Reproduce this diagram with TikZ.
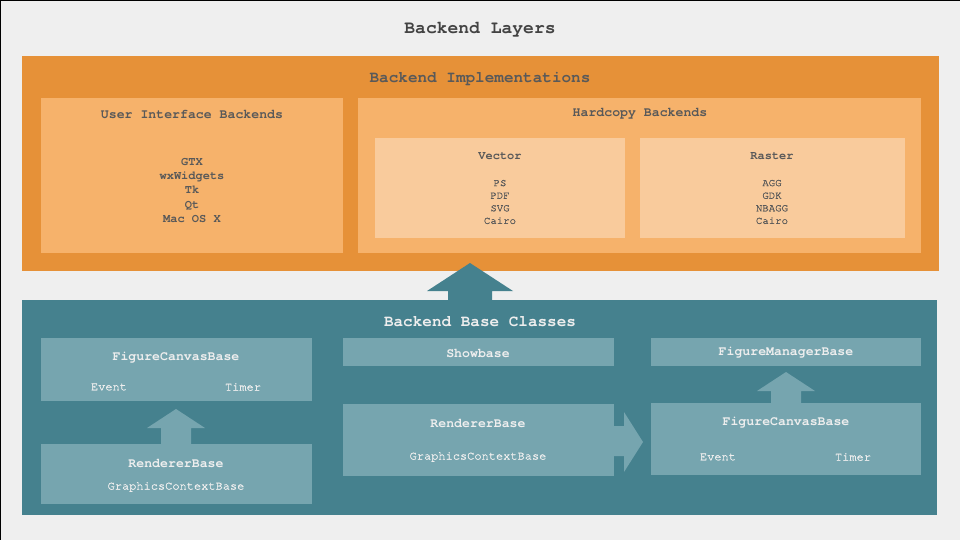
\documentclass[tikz,border=0pt]{standalone}
\usepackage{fontspec}
\setmonofont{TeX Gyre Cursor}
\newfontfamily\medtt[FakeBold=1.2]{TeX Gyre Cursor}
\usetikzlibrary{positioning}

\definecolor{pagebg}{HTML}{EFEFEF}
\definecolor{implout}{HTML}{E69138}
\definecolor{implin}{HTML}{F6B26B}
\definecolor{implleaf}{HTML}{F9CB9C}
\definecolor{baseout}{HTML}{45818E}
\definecolor{basein}{HTML}{76A5AF}
\definecolor{darktxt}{HTML}{595959}
\definecolor{titletxt}{HTML}{434343}
\definecolor{lighttxt}{HTML}{EEEEEE}

\tikzset{
  box/.style={inner sep=0pt, outer sep=0pt, anchor=north west},
  orangetxt/.style={text=darktxt, font=\ttfamily\bfseries\fontsize{13.2}{15}\selectfont},
  tealtxt/.style={text=lighttxt, font=\ttfamily\bfseries\fontsize{13.2}{15}\selectfont},
  smalltxt/.style={font=\medtt\fontsize{12}{14}\selectfont},
}

\begin{document}
\begin{tikzpicture}[x=1pt, y=-1pt]
  \useasboundingbox (0,0) rectangle (960,540);
  \fill[pagebg] (0,0) rectangle (960,540);
  \draw[black, line width=2pt] (0,540) -- (0,0) -- (960,0);

  \node[text=titletxt, font=\ttfamily\bfseries\fontsize{18}{20}\selectfont] (layers) at (480,30) {Backend Layers};

  % implementations
  \node[box, fill=implout, minimum width=917, minimum height=215] (impl) at (22,56) {};
  \node[orangetxt, font=\ttfamily\bfseries\fontsize{16}{18}\selectfont] (impltitle) at (480,79) {Backend Implementations};

  \node[box, fill=implin, minimum width=302, minimum height=155] (ui) at (41,98) {};
  \node[orangetxt] (uititle) at (192,114) {User Interface Backends};
  \node[text=darktxt, font=\ttfamily\bfseries\fontsize{12}{14.3}\selectfont, align=center] (uilist) at (192,190.5)
    {GTX\\wxWidgets\\Tk\\Qt\\Mac OS X};

  \node[box, fill=implin, minimum width=563, minimum height=155] (hard) at (358,98) {};
  \node[orangetxt] (hardtitle) at (640,114) {Hardcopy Backends};

  \node[box, fill=implleaf, minimum width=250, minimum height=100] (vector) at (375,138) {};
  \node[orangetxt, font=\ttfamily\bfseries\fontsize{12}{14}\selectfont] (vectortitle) at (500,156) {Vector};
  \node[text=darktxt, font=\medtt\fontsize{10.7}{12.6}\selectfont, align=center] (vectorlist) at (500,202)
    {PS\\PDF\\SVG\\Cairo};

  \node[box, fill=implleaf, minimum width=265, minimum height=100] (raster) at (640,138) {};
  \node[orangetxt, font=\ttfamily\bfseries\fontsize{12}{14}\selectfont] (rastertitle) at (772,156) {Raster};
  \node[text=darktxt, font=\medtt\fontsize{10.7}{12.6}\selectfont, align=center] (rasterlist) at (772,202)
    {AGG\\GDK\\NBAGG\\Cairo};

  % base classes
  \node[box, fill=baseout, minimum width=915, minimum height=215] (base) at (22,300) {};
  \fill[baseout] (448,300) -- (448,291) -- (427,291) -- (470,263) -- (513,291) -- (492,291) -- (492,300) -- cycle;
  \node[tealtxt, font=\ttfamily\bfseries\fontsize{16}{18}\selectfont] (basetitle) at (480,322) {Backend Base Classes};

  % left column
  \node[box, fill=basein, minimum width=271, minimum height=63] (canvasl) at (41,338) {};
  \node[tealtxt] (canvasltitle) at (176,358) {FigureCanvasBase};
  \node[tealtxt, smalltxt] (eventl) at (109,387) {Event};
  \node[tealtxt, smalltxt] (timerl) at (243,387) {Timer};

  \node[box, fill=basein, minimum width=271, minimum height=60] (rendl) at (41,444) {};
  \node[tealtxt] (rendltitle) at (176,463) {RendererBase};
  \node[tealtxt, smalltxt] (gcl) at (176,487) {GraphicsContextBase};
  \fill[basein] (161,444) -- (161,428) -- (147,428) -- (176,409) -- (205,428) -- (191,428) -- (191,444) -- cycle;

  % middle column
  \node[box, fill=basein, minimum width=271, minimum height=28] (show) at (343,338) {};
  \node[tealtxt] (showtitle) at (478,353) {Showbase};

  \node[box, fill=basein, minimum width=271, minimum height=72] (rendm) at (343,404) {};
  \node[tealtxt] (rendmtitle) at (478,423) {RendererBase};
  \node[tealtxt, smalltxt] (gcm) at (478,457) {GraphicsContextBase};
  \fill[basein] (614,426) -- (624,426) -- (624,412) -- (643,442) -- (624,472) -- (624,456) -- (614,456) -- cycle;

  % right column
  \node[box, fill=basein, minimum width=270, minimum height=28] (manager) at (651,338) {};
  \node[tealtxt] (managertitle) at (786,353) {FigureManagerBase};

  \node[box, fill=basein, minimum width=270, minimum height=72] (canvasr) at (651,403) {};
  \node[tealtxt] (canvasrtitle) at (786,423) {FigureCanvasBase};
  \node[tealtxt, smalltxt] (eventr) at (718,457) {Event};
  \node[tealtxt, smalltxt] (timerr) at (853,457) {Timer};
  \fill[basein] (771,403) -- (771,391) -- (757,391) -- (786,372) -- (815,391) -- (801,391) -- (801,403) -- cycle;
\end{tikzpicture}
\end{document}
